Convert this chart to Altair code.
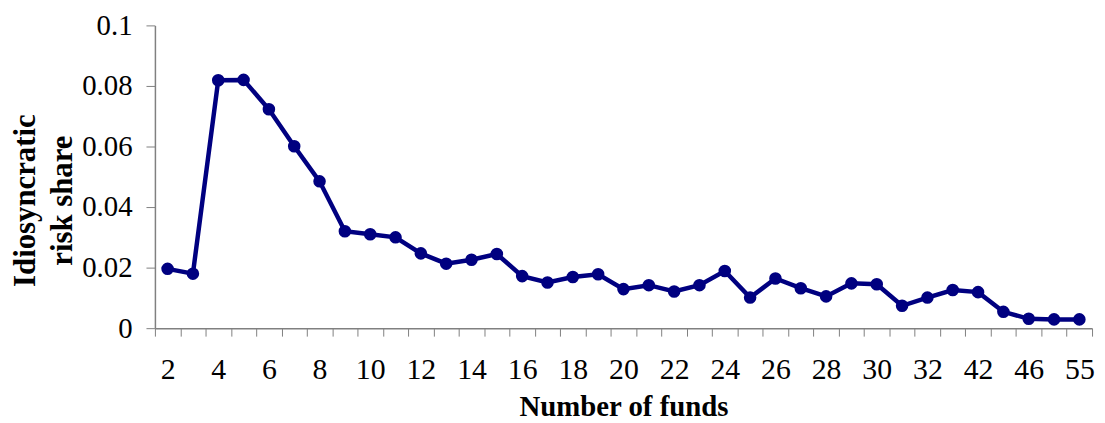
import altair as alt
import pandas as pd

categories = ["2", "3", "4", "5", "6", "7", "8", "9", "10", "11", "12", "13", "14", "15",
              "16", "17", "18", "19", "20", "21", "22", "23", "24", "25", "26", "27", "28",
              "29", "30", "31", "32", "33", "42", "44", "46", "50", "55"]
shown_labels = ["2", "4", "6", "8", "10", "12", "14", "16", "18", "20", "22", "24", "26",
                "28", "30", "32", "42", "46", "55"]
values = [0.0196, 0.0180, 0.0819, 0.0820, 0.0723, 0.0601, 0.0485, 0.0320, 0.0310, 0.0300,
          0.0247, 0.0213, 0.0226, 0.0245, 0.0172, 0.0151, 0.0169, 0.0178, 0.0129, 0.0142,
          0.0121, 0.0142, 0.0189, 0.0101, 0.0164, 0.0132, 0.0105, 0.0148, 0.0145, 0.0074,
          0.0101, 0.0126, 0.0119, 0.0054, 0.0031, 0.0029, 0.0029]

df = pd.DataFrame({"funds": categories, "share": values})

FONT = "Liberation Serif"
NAVY = "#000080"
AX = "#808080"

label_list = "[" + ",".join("'" + s + "'" for s in shown_labels) + "]"

x_enc = alt.X(
    "funds:O",
    sort=categories,
    bandPosition=0.5,
    scale=alt.Scale(type="band", domain=categories, paddingInner=0, paddingOuter=0),
    axis=alt.Axis(
        title="Number of funds",
        tickBand="extent",
        labelAngle=0,
        labelExpr="indexof(" + label_list + ", datum.value) >= 0 ? datum.value : ''",
        labelFont=FONT, labelFontSize=30, labelColor="black",
        labelPadding=19,
        tickSize=8, tickColor=AX, domainColor=AX, tickWidth=1, domainWidth=1.5,
        titleFont=FONT, titleFontSize=29, titleFontWeight="bold", titleColor="black",
        titlePadding=8,
        grid=False,
    ),
)

y_enc = alt.Y(
    "share:Q",
    scale=alt.Scale(domain=[0, 0.1], nice=False, zero=True),
    axis=alt.Axis(
        title=["Idiosyncratic", "risk share"],
        values=[0, 0.02, 0.04, 0.06, 0.08, 0.1],
        format="~g",
        labelFont=FONT, labelFontSize=29, labelColor="black",
        labelPadding=14,
        tickSize=9, tickColor=AX, domainColor=AX, tickWidth=1, domainWidth=1.5,
        titleFont=FONT, titleFontSize=31, titleFontWeight="bold", titleColor="black",
        titleAngle=-90, titleX=-145, titleY=176, titleAlign="center", titleBaseline="top",
        titleLineHeight=37,
        grid=False,
    ),
)

base = alt.Chart(df)
line = base.mark_line(color=NAVY, strokeWidth=4.5).encode(x=x_enc, y=y_enc)
pts = base.mark_point(color=NAVY, filled=True, opacity=1, size=160, shape="circle").encode(x=x_enc, y=y_enc)

chart = (
    alt.layer(line, pts)
    .properties(
        width=944,
        height=305,
        autosize=alt.AutoSizeParams(type="none"),
        padding={"left": 148, "top": 16, "right": 5, "bottom": 94},
        background="white",
    )
    .configure_view(stroke=None)
)

chart.save("out.html", embed_options={"renderer": "svg", "actions": False})
